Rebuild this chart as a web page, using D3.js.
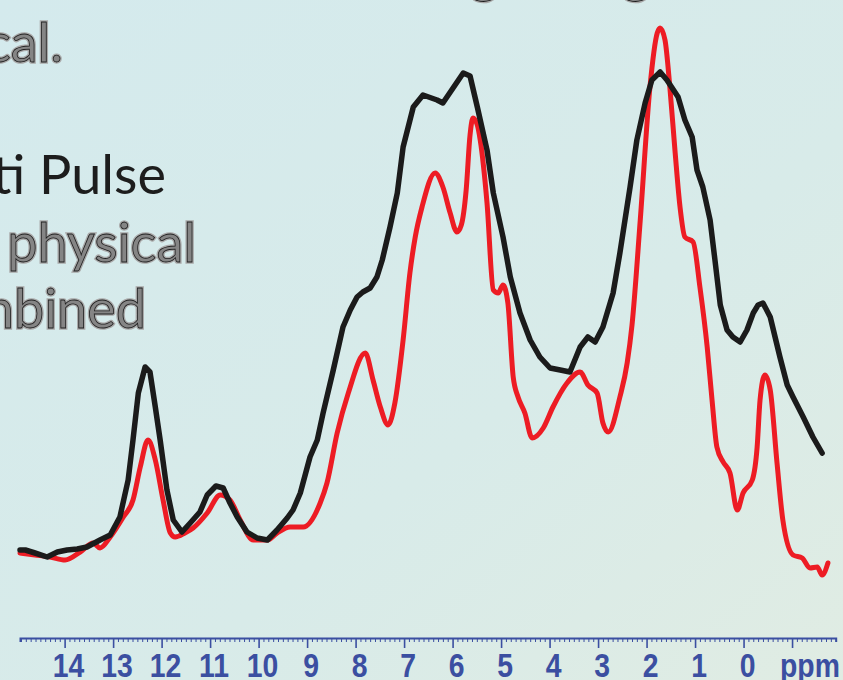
<!DOCTYPE html>
<html lang="en">
<head>
    <meta charset="UTF-8">
    <script src="https://d3js.org/d3.v7.min.js"></script>
    <title>NMR spectrum</title>
    <style>
        html, body { margin: 0; padding: 0; overflow: hidden; }
        .slide-text { font-family: Lato, "Open Sans", sans-serif; font-size: 54px; }
        .axis-label { font-family: "Liberation Sans", Arial, sans-serif; font-weight: bold; }
    </style>
</head>
<body>
    <div id="chart"></div>
    <script>
        // chemical shift (ppm) and intensity (arbitrary units)
        const blackPpm = [14.92, 14.81, 14.61, 14.36, 14.15, 13.95, 13.74, 13.54, 13.27, 13.06, 12.86, 12.69, 12.59, 12.48, 12.34,
            12.24, 12.13, 12.03, 11.89, 11.76, 11.58, 11.41, 11.21, 11.06, 10.88, 10.73, 10.59, 10.44, 10.24, 10.03,
            9.82, 9.62, 9.41, 9.29, 9.14, 8.94, 8.79, 8.67, 8.46, 8.26, 8.11, 7.97, 7.85, 7.70, 7.56,
            7.45, 7.29, 7.14, 7.02, 6.81, 6.61, 6.32, 6.20, 5.99, 5.78, 5.64, 5.49, 5.29, 5.16, 4.96,
            4.81, 4.61, 4.40, 4.20, 3.99, 3.78, 3.58, 3.37, 3.21, 3.06, 2.90, 2.69, 2.55, 2.34, 2.20,
            2.03, 1.89, 1.72, 1.58, 1.35, 1.21, 1.06, 0.96, 0.84, 0.69, 0.59, 0.48, 0.34, 0.22, 0.07,
            -0.07, -0.20, -0.30, -0.40, -0.55, -0.75, -0.90, -1.02, -1.23, -1.43, -1.62];
        const blackInt = [2.0, 2.0, 1.4, 0.6, 1.6, 2.0, 2.2, 2.6, 4.0, 5.0, 8.6, 16.0, 24.0, 33.4, 38.6,
            37.6, 30.6, 24.0, 14.0, 8.0, 5.6, 7.4, 9.6, 13.0, 14.8, 14.4, 11.4, 8.6, 5.6, 4.4,
            4.0, 6.0, 8.4, 10.0, 13.4, 20.6, 24.0, 29.4, 38.0, 46.6, 50.0, 52.6, 53.6, 54.4, 56.6,
            60.0, 66.6, 73.4, 82.6, 90.6, 93.0, 92.0, 91.4, 94.4, 97.4, 96.8, 90.6, 82.0, 73.4, 64.6,
            56.6, 49.4, 44.0, 40.6, 38.4, 38.0, 37.6, 42.6, 44.6, 43.6, 46.6, 53.4, 61.4, 74.6, 84.0,
            91.4, 96.0, 97.6, 96.0, 92.6, 88.0, 84.6, 78.0, 74.6, 68.0, 60.0, 51.0, 46.0, 44.6, 43.6,
            46.0, 49.4, 51.0, 51.4, 48.6, 40.6, 35.0, 32.6, 28.6, 24.6, 21.4];

        const redPpm = [14.92, 14.61, 14.30, 13.99, 13.68, 13.41, 13.27, 13.06, 12.79, 12.59, 12.44, 12.28, 12.13, 11.97, 11.82,
            11.72, 11.52, 11.35, 11.06, 10.79, 10.59, 10.38, 10.11, 9.82, 9.62, 9.35, 9.08, 8.73, 8.59, 8.38,
            8.15, 7.80, 7.64, 7.49, 7.33, 7.19, 7.02, 6.88, 6.77, 6.63, 6.36, 6.20, 6.05, 5.91, 5.82,
            5.72, 5.64, 5.58, 5.49, 5.43, 5.29, 5.16, 5.06, 4.96, 4.86, 4.75, 4.65, 4.51, 4.36, 4.13,
            3.93, 3.64, 3.37, 3.21, 3.02, 2.90, 2.79, 2.55, 2.40, 2.30, 2.13, 1.93, 1.78, 1.72, 1.62,
            1.52, 1.41, 1.31, 1.21, 1.04, 0.90, 0.75, 0.65, 0.55, 0.42, 0.28, 0.13, 0.01, -0.18, -0.28,
            -0.34, -0.44, -0.55, -0.69, -0.81, -1.02, -1.21, -1.37, -1.52, -1.62, -1.74];
        const redInt = [1.4, 1.0, 0.6, 0.0, 1.6, 3.4, 2.4, 4.6, 8.6, 12.0, 18.6, 24.0, 20.0, 12.0, 5.4,
            4.6, 5.4, 6.4, 9.4, 13.0, 12.0, 8.0, 4.0, 4.0, 5.4, 6.6, 6.6, 11.4, 15.4, 25.4,
            33.4, 41.4, 36.0, 30.6, 27.0, 31.4, 44.0, 57.4, 64.6, 70.6, 77.4, 74.6, 69.4, 65.6, 67.0,
            74.0, 85.0, 88.4, 87.0, 84.0, 71.4, 54.0, 53.4, 55.0, 51.4, 36.6, 32.6, 29.4, 24.4, 26.4,
            30.6, 35.4, 37.6, 35.0, 33.4, 27.4, 25.6, 32.6, 39.4, 47.0, 68.0, 94.6, 105.4, 106.4, 104.0,
            94.6, 81.4, 70.6, 64.6, 63.6, 54.6, 42.6, 32.0, 22.6, 19.6, 17.4, 10.0, 13.4, 16.0, 22.6,
            32.0, 37.0, 34.0, 19.4, 8.0, 1.0, 0.4, -1.6, -1.4, -3.0, -0.6];

        const majorTicks = d3.range(-1, 15);
        const tickLabels = ["14", "13", "12", "11", "10", "9", "8", "7", "6", "5", "4", "3", "2", "1", "0"];
        const unitLabel = "ppm";

        const width = 843, height = 680;

        const svg = d3.select("#chart").append("svg")
            .attr("width", width)
            .attr("height", height);

        // background wash
        const defs = svg.append("defs");
        const grad = defs.append("linearGradient")
            .attr("id", "bg").attr("x1", "0").attr("y1", "0").attr("x2", "1").attr("y2", "1");
        grad.append("stop").attr("offset", "0%").attr("stop-color", "#d4eaed");
        grad.append("stop").attr("offset", "60%").attr("stop-color", "#d8ebe9");
        grad.append("stop").attr("offset", "100%").attr("stop-color", "#e0ece3");
        svg.append("rect").attr("width", width).attr("height", height).attr("fill", "url(#bg)");

        // slide text, cut off on the left
        const outlined = (txt, x, y) => {
            svg.append("text").attr("class", "slide-text")
                .attr("x", x).attr("y", y).attr("text-anchor", "end")
                .attr("fill", "#8c8c8c").attr("stroke", "#a9a9a9").attr("stroke-width", 3.5)
                .attr("paint-order", "stroke").text(txt);
            svg.append("text").attr("class", "slide-text")
                .attr("x", x).attr("y", y).attr("text-anchor", "end")
                .attr("fill", "#858585").attr("stroke", "#1e1e1e").attr("stroke-width", 0.8).text(txt);
        };
        outlined("g", 498, -8);
        outlined("g", 650, -8);
        outlined("chemical.", 63, 62);
        svg.append("text").attr("class", "slide-text")
            .attr("x", 166).attr("y", 194).attr("text-anchor", "end")
            .attr("fill", "#1d1d1d").text("Multi Pulse");
        outlined("physical", 196, 262);
        outlined("combined", 146, 328);

        // scales
        const x = d3.scaleLinear().domain([14.92, -1.9]).range([20, 835.7]);
        const y = d3.scaleLinear().domain([0, 110]).range([560, 10]);

        const axisColor = "#3b4fa1";
        const minorTicks = d3.range(-19, 150).map(d => d / 10).filter(d => Math.abs(d - Math.round(d)) > 1e-6);

        const axisY = 638;
        svg.append("g")
            .attr("transform", `translate(0,${axisY})`)
            .call(d3.axisBottom(x).tickValues(minorTicks).tickSize(4).tickFormat(""))
            .call(g => g.select(".domain").attr("stroke", axisColor).attr("stroke-width", 2))
            .call(g => g.selectAll(".tick line").attr("stroke", axisColor).attr("stroke-width", 1));

        svg.append("g")
            .attr("transform", `translate(0,${axisY})`)
            .call(d3.axisBottom(x).tickValues(majorTicks).tickSize(10).tickFormat(""))
            .call(g => g.select(".domain").remove())
            .call(g => g.selectAll(".tick line").attr("stroke", axisColor).attr("stroke-width", 1.6));

        // condensed bold labels: larger size squeezed horizontally
        svg.append("g").selectAll("text")
            .data(tickLabels)
            .join("text")
            .attr("class", "axis-label")
            .attr("transform", d => `translate(${x(+d) + 4},677) scale(0.86,1)`)
            .attr("text-anchor", "middle")
            .attr("font-size", 33)
            .attr("fill", axisColor)
            .text(d => d);

        svg.append("text")
            .attr("class", "axis-label")
            .attr("transform", "translate(780,677) scale(0.86,1)")
            .attr("font-size", 33)
            .attr("fill", axisColor)
            .text(unitLabel);

        // spectra (ppm runs high to low, so x already increases along the arrays)
        const redLine = d3.line()
            .x((d, i) => x(redPpm[i]))
            .y(d => y(d))
            .curve(d3.curveMonotoneX);
        const blackLine = d3.line()
            .x((d, i) => x(blackPpm[i]))
            .y(d => y(d))
            .curve(d3.curveLinear);

        svg.append("path")
            .attr("d", redLine(redInt))
            .attr("fill", "none")
            .attr("stroke", "#ed1c24")
            .attr("stroke-width", 5)
            .attr("stroke-linejoin", "round")
            .attr("stroke-linecap", "round");

        svg.append("path")
            .attr("d", blackLine(blackInt))
            .attr("fill", "none")
            .attr("stroke", "#1b1b1b")
            .attr("stroke-width", 5.5)
            .attr("stroke-linejoin", "round")
            .attr("stroke-linecap", "round");
    </script>
</body>
</html>
